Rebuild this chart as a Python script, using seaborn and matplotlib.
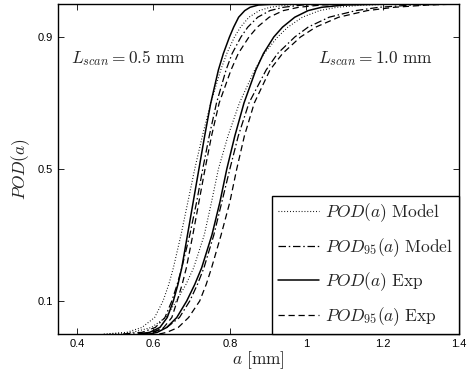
import matplotlib
matplotlib.use("Agg")
import matplotlib.pyplot as plt
import seaborn as sns
import pandas as pd

# POD levels shared by all curves
pod_levels = [0.0, 0.005, 0.02, 0.05, 0.1, 0.15, 0.2, 0.3, 0.4, 0.5, 0.6, 0.7,
              0.8, 0.85, 0.9, 0.93, 0.96, 0.98, 0.99, 0.997, 1.0]

# crack size a [mm] at each POD level
a_model_05 = [0.470, 0.530, 0.570, 0.603, 0.625, 0.640, 0.652, 0.672, 0.690, 0.708, 0.728,
              0.750, 0.776, 0.792, 0.812, 0.828, 0.850, 0.877, 0.905, 0.950, 1.050]
a_model95_05 = [0.520, 0.570, 0.605, 0.630, 0.648, 0.662, 0.674, 0.695, 0.713, 0.729, 0.746,
                0.765, 0.790, 0.806, 0.829, 0.847, 0.873, 0.905, 0.940, 0.990, 1.100]
a_exp_05 = [0.560, 0.590, 0.617, 0.636, 0.652, 0.664, 0.674, 0.689, 0.704, 0.719, 0.734,
            0.750, 0.770, 0.783, 0.799, 0.810, 0.823, 0.839, 0.853, 0.875, 0.920]
a_exp95_05 = [0.575, 0.600, 0.627, 0.648, 0.662, 0.675, 0.686, 0.703, 0.719, 0.735, 0.752,
              0.772, 0.803, 0.822, 0.850, 0.872, 0.903, 0.940, 0.980, 1.040, 1.160]

a_model_10 = [0.485, 0.545, 0.595, 0.632, 0.660, 0.685, 0.705, 0.733, 0.752, 0.770, 0.795,
              0.825, 0.865, 0.890, 0.925, 0.952, 0.990, 1.035, 1.080, 1.150, 1.280]
a_model95_10 = [0.560, 0.595, 0.635, 0.668, 0.695, 0.715, 0.732, 0.758, 0.779, 0.800, 0.822,
                0.850, 0.895, 0.925, 0.970, 1.005, 1.060, 1.130, 1.190, 1.280, 1.400]
a_exp_10 = [0.590, 0.610, 0.635, 0.661, 0.687, 0.708, 0.726, 0.753, 0.774, 0.792, 0.813,
            0.837, 0.868, 0.888, 0.915, 0.938, 0.970, 1.005, 1.040, 1.100, 1.220]
a_exp95_10 = [0.615, 0.635, 0.665, 0.692, 0.721, 0.738, 0.752, 0.777, 0.800, 0.818, 0.838,
              0.864, 0.905, 0.938, 0.985, 1.025, 1.085, 1.160, 1.230, 1.320, 1.400]

labels = [r'$POD(a)\ \mathrm{Model}$', r'$POD_{95}(a)\ \mathrm{Model}$',
          r'$POD(a)\ \mathrm{Exp}$', r'$POD_{95}(a)\ \mathrm{Exp}$']
x_ticks = [0.4, 0.6, 0.8, 1.0, 1.2, 1.4]
x_ticklabels = ['0.4', '0.6', '0.8', '1', '1.2', '1.4']
y_ticks = [0.1, 0.5, 0.9]
y_ticklabels = ['0.1', '0.5', '0.9']

sns.set_style('ticks')
plt.rcParams['font.family'] = ['Liberation Sans', 'DejaVu Sans']
plt.rcParams['mathtext.fontset'] = 'cm'
plt.rcParams['xtick.direction'] = 'in'
plt.rcParams['ytick.direction'] = 'in'

fig = plt.figure(figsize=(4.70, 3.79), dpi=100)
ax = fig.add_axes([58/470, 45/379, (459-58)/470, (334-4)/379])

styles = [
    dict(ls=(0, (0.8, 1.8)), lw=0.8),
    dict(ls=(0, (6, 2.2, 1.2, 2.2)), lw=0.9),
    dict(ls='-', lw=1.1),
    dict(ls=(0, (5, 3)), lw=0.9),
]
groups = [
    [a_model_05, a_model95_05, a_exp_05, a_exp95_05],
    [a_model_10, a_model95_10, a_exp_10, a_exp95_10],
]
for gi, grp in enumerate(groups):
    for k, avals in enumerate(grp):
        df = pd.DataFrame({'a': avals, 'POD': pod_levels})
        sns.lineplot(data=df, x='a', y='POD', ax=ax, color='black',
                     linestyle=styles[k]['ls'], linewidth=styles[k]['lw'],
                     estimator=None, sort=True,
                     label=labels[k] if gi == 0 else None, legend=False)

ax.set_xlim(0.35, 1.4)
ax.set_ylim(0, 1.0)
ax.set_xticks(x_ticks)
ax.set_xticklabels(x_ticklabels)
ax.set_yticks(y_ticks)
ax.set_yticklabels(y_ticklabels)
ax.tick_params(labelsize=8, top=True, right=True, length=4, width=0.6, colors='black')
for s in ax.spines.values():
    s.set_linewidth(1.0)
    s.set_color('black')

ax.set_xlabel(r'$a\ \mathrm{[mm]}$', fontsize=12.5, labelpad=0)
ax.set_ylabel(r'$POD(a)$', fontsize=12.5, labelpad=4)

ax.text(0.385, 0.835, r'$L_{scan} = 0.5\ \mathrm{mm}$', fontsize=12.5, va='center', ha='left')
ax.text(1.03, 0.835, r'$L_{scan} = 1.0\ \mathrm{mm}$', fontsize=12.5, va='center', ha='left')

leg = ax.legend(loc='lower right', borderaxespad=0, fancybox=False, framealpha=1,
                edgecolor='black', fontsize=12.5, handlelength=2.35, handletextpad=0.35,
                labelspacing=0.68, borderpad=0.35)
leg.get_frame().set_linewidth(1.0)

fig.savefig('out.png', dpi=100)
